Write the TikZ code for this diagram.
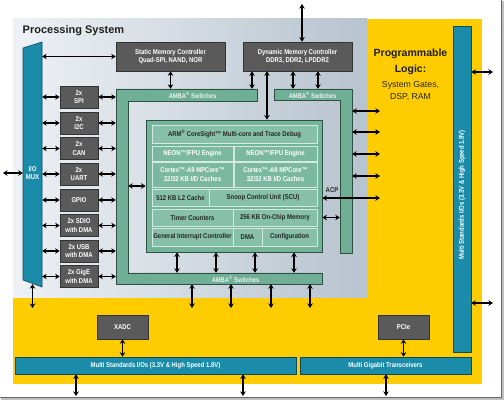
\documentclass[tikz,border=0pt]{standalone}
\usepackage{fontspec}
\setmainfont{Liberation Sans}
\newfontfamily\cnd[FakeStretch=0.85]{Liberation Sans}
\usetikzlibrary{arrows.meta,calc}
\definecolor{ylw}{HTML}{FFCC00}
\definecolor{psl}{HTML}{EEF1F5}
\definecolor{psr}{HTML}{B7C3CE}
\definecolor{tealc}{HTML}{1A8BA8}
\definecolor{tealline}{HTML}{0F4A5A}
\definecolor{boxgray}{HTML}{5A5A5A}
\definecolor{ambag}{HTML}{6FAF96}
\definecolor{coreg}{HTML}{74B49B}
\definecolor{cellg}{HTML}{86C0A9}
\definecolor{cellg2}{HTML}{7BB8A0}
\definecolor{greenline}{HTML}{2E4F42}
\begin{document}
\begin{tikzpicture}[x=1pt,y=-1pt,
 lbl/.style={font=\cnd\bfseries\fontsize{7}{8.5}\selectfont, align=center},
 gbox/.style={lbl, draw=black!80, fill=boxgray, text=white, inner sep=0, line width=0.6},
 tbar/.style={lbl, draw=tealline, fill=tealc, text=white, inner sep=0, line width=0.6},
 cell/.style={lbl, draw=white!70!coreg, fill=cellg, text=black!85, inner sep=0, line width=0.7},
 cellw/.style={cell, fill=cellg2, text=white},
 ghost/.style={inner sep=0, draw=none},
 ambatxt/.style={lbl, text=white!88!ambag, font=\cnd\bfseries\fontsize{6.8}{8}\selectfont},
 arr/.style={line width=1.6pt, >={Stealth[length=4.5pt,width=5.5pt]}, <->},
]
\useasboundingbox (0,0) rectangle (504,401);
% frame shadow
\draw[black!25, line width=2] (1,398.5) -- (502.5,398.5) -- (502.5,1);
\draw[black!60, line width=1] (0,397) -- (501,397) -- (501,0);
% backgrounds
\fill[ylw] (13,19) rectangle (482,384);
\shade[left color=psl, right color=psr] (13,19) rectangle (367,297);
\node[font=\bfseries\fontsize{11}{13}\selectfont, anchor=base west, inner sep=0, text=black!88] (pstitle) at (22.5,33.5) {Processing System};
% PL text
\node[font=\bfseries\fontsize{10.5}{12}\selectfont, anchor=base, inner sep=0, text=black!88] (pl1) at (410.5,57) {Programmable};
\node[font=\bfseries\fontsize{10.5}{12}\selectfont, anchor=base, inner sep=0, text=black!88] (pl2) at (410.5,73) {Logic:};
\node[font=\fontsize{8.7}{10}\selectfont, anchor=base, inner sep=0, text=black!85] (pl3) at (410.5,87.5) {System Gates,};
\node[font=\fontsize{8.7}{10}\selectfont, anchor=base, inner sep=0, text=black!85] (pl4) at (410.5,100) {DSP, RAM};
% I/O MUX
\draw[fill=tealc, draw=tealline, line width=0.6] (23,48) -- (42,42) -- (42,287) -- (23,280) -- cycle;
\node[ghost, minimum width=19, minimum height=238] (mux) at (32.5,165) {};
\node[lbl, text=white] (muxtxt) at (32.5,173) {I/O\\MUX};
\coordinate (extL) at (3,173);
\draw[arr] (extL) -- (extL -| mux.west);
\coordinate (muxdn) at (32.5,308);
\draw[arr] (mux.south) -- (muxdn);
% memory controllers
\node[gbox, minimum width=109, minimum height=29] (smc) at (170.5,56.5) {Static Memory Controller\\Quad-SPI, NAND, NOR};
\node[gbox, minimum width=109, minimum height=29] (dmc) at (297.5,56.5) {Dynamic Memory Controller\\DDR3, DDR2, LPDDR2};
\draw[arr] (mux.east |- smc.west) -- (smc.west);
\coordinate (dtop) at (302,4);
\draw[arr] (dtop) -- (dtop |- dmc.north);
% AMBA frames
\draw[fill=ambag, draw=greenline, line width=0.6] (116,89) -- (257,89) -- (257,101) -- (128,101) -- (128,273) -- (322,273) -- (322,284) -- (116,284) -- cycle;
\node[ghost, minimum width=141, minimum height=12] (ambaT) at (186.5,95) {};
\node[ghost, minimum width=12, minimum height=195] (ambaL) at (122,186.5) {};
\node[ghost, minimum width=206, minimum height=11] (ambaB) at (219,278.5) {};
\node[ambatxt] (ambaTt) at (192.5,95.5) {AMBA\textsuperscript{®} Switches};
\node[ambatxt] (ambaBt) at (235.5,279) {AMBA\textsuperscript{®} Switches};
\draw[fill=ambag, draw=greenline, line width=0.6] (274,89) -- (352,89) -- (352,253) -- (340,253) -- (340,100) -- (274,100) -- cycle;
\node[ghost, minimum width=78, minimum height=11] (ambaRT) at (313,94.5) {};
\node[ghost, minimum width=12, minimum height=164] (ambaR) at (346,171) {};
\node[ambatxt] (ambaRTt) at (312.5,95) {AMBA\textsuperscript{®} Switches};
% peripherals
\foreach \n/\y/\t in {spi/97/{2x\\SPI}, i2c/123/{2x\\I2C}, can/148.5/{2x\\CAN}, uart/174/{2x\\UART}, gpio/200/{GPIO}, sdio/225.5/{2x SDIO\\with DMA}, usb/251/{2x USB\\with DMA}, gige/276.5/{2x GigE\\with DMA}}{
  \node[gbox, minimum width=38, minimum height=22] (\n) at (79,\y) {\t};
  \draw[arr] (mux.east |- \n.west) -- (\n.west);
  \draw[arr] (\n.east) -- (\n.east -| ambaL.west);
}
% core
\node[draw=greenline, fill=coreg, line width=0.8, minimum width=176, minimum height=132, inner sep=0] (core) at (234,186) {};
\node[cell, minimum width=165, minimum height=18] (cs) at (234.5,134) {ARM\textsuperscript{®} CoreSight™ Multi-core and Trace Debug};
\node[cellw, minimum width=81, minimum height=15] (neonL) at (192.5,153.5) {NEON™/FPU Engine};
\node[cellw, minimum width=83, minimum height=15] (neonR) at (275.5,153.5) {NEON™/FPU Engine};
\node[cellw, minimum width=81, minimum height=25] (cortL) at (192.5,174.5) {Cortex™-A9 MPCore™\\32/32 KB I/D Caches};
\node[cellw, minimum width=83, minimum height=25] (cortR) at (275.5,174.5) {Cortex™-A9 MPCore™\\32/32 KB I/D Caches};
\node[cell, minimum width=57, minimum height=17] (l2) at (180.5,197.5) {512 KB L2 Cache};
\node[cell, minimum width=108, minimum height=17] (scu) at (263,197.5) {Snoop Control Unit (SCU)};
\node[cell, minimum width=81, minimum height=17] (tmr) at (192.5,217.5) {Timer Counters};
\node[cell, minimum width=84, minimum height=17] (ocm) at (275,217.5) {256 KB On-Chip Memory};
\node[cell, minimum width=81, minimum height=18] (gic) at (192.5,237) {General Interrupt Controller};
\node[cell, minimum width=29, minimum height=18] (dma) at (247.5,237) {DMA};
\node[cell, minimum width=55, minimum height=18] (cfg) at (289.5,237) {Configuration};
% core connections
\draw[arr] (ambaL.east |- core.west) -- (core.west);
\foreach \x [count=\i] in {177,216,255,294}{
  \coordinate (cb\i) at (\x,0);
  \draw[arr] (core.south -| cb\i) -- (ambaB.north -| cb\i);
}
\foreach \x [count=\i] in {192,231,271,310}{
  \coordinate (bd\i) at (\x,308);
  \draw[arr] (ambaB.south -| bd\i) -- (bd\i);
}
\draw[arr] (smc.south) -- (smc.south |- ambaT.north);
\coordinate (d1) at (252,0);
\coordinate (d2) at (267,0);
\coordinate (d3) at (293,0);
\coordinate (d4) at (318,0);
\draw[arr] (dmc.south -| d1) -- (ambaT.north -| d1);
\draw[arr] (dmc.south -| d2) -- (core.north -| d2);
\draw[arr] (dmc.south -| d3) -- (ambaRT.north -| d3);
\draw[arr] (dmc.south -| d4) -- (ambaRT.north -| d4);
\foreach \y [count=\i] in {111,132,154,176}{
  \coordinate (pr\i) at (380,\y);
  \draw[arr] (ambaR.east |- pr\i) -- (pr\i);
}
\coordinate (acp) at (380,198);
\draw[arr] (core.east |- acp) -- (acp);
\node[lbl, text=black!85] (acplbl) at (332,190.5) {ACP};
\draw[arr] (core.east |- ocm) -- (ambaR.west |- ocm);
% PL blocks
\node[gbox, minimum width=51, minimum height=24] (xadc) at (122.5,327) {XADC};
\node[gbox, minimum width=51, minimum height=24] (pcie) at (403.5,327) {PCIe};
\node[tbar, minimum width=281, minimum height=17] (mioB) at (155.5,365.5) {Multi Standards I/Os (3.3V \& High Speed 1.8V)};
\node[tbar, minimum width=171, minimum height=17] (mgt) at (385.5,365.5) {Multi Gigabit Transceivers};
\node[tbar, minimum width=18, minimum height=326] (mioR) at (462,189) {};
\node[lbl, text=white, rotate=90] (mioRt) at (462,195) {Multi Standards I/Os (3.3V \& High Speed 1.8V)};
\draw[arr] (xadc.south) -- (xadc.south |- mioB.north);
\draw[arr] (pcie.south) -- (pcie.south |- mgt.north);
\coordinate (b1) at (76,396);
\coordinate (b2) at (243,396);
\coordinate (b3) at (386,396);
\draw[arr] (mioB.south -| b1) -- (b1);
\draw[arr] (mioB.south -| b2) -- (b2);
\draw[arr] (mgt.south -| b3) -- (b3);
\coordinate (r1) at (493,72);
\coordinate (r2) at (493,303);
\draw[arr] (mioR.east |- r1) -- (r1);
\draw[arr] (mioR.east |- r2) -- (r2);
\end{tikzpicture}
\end{document}
